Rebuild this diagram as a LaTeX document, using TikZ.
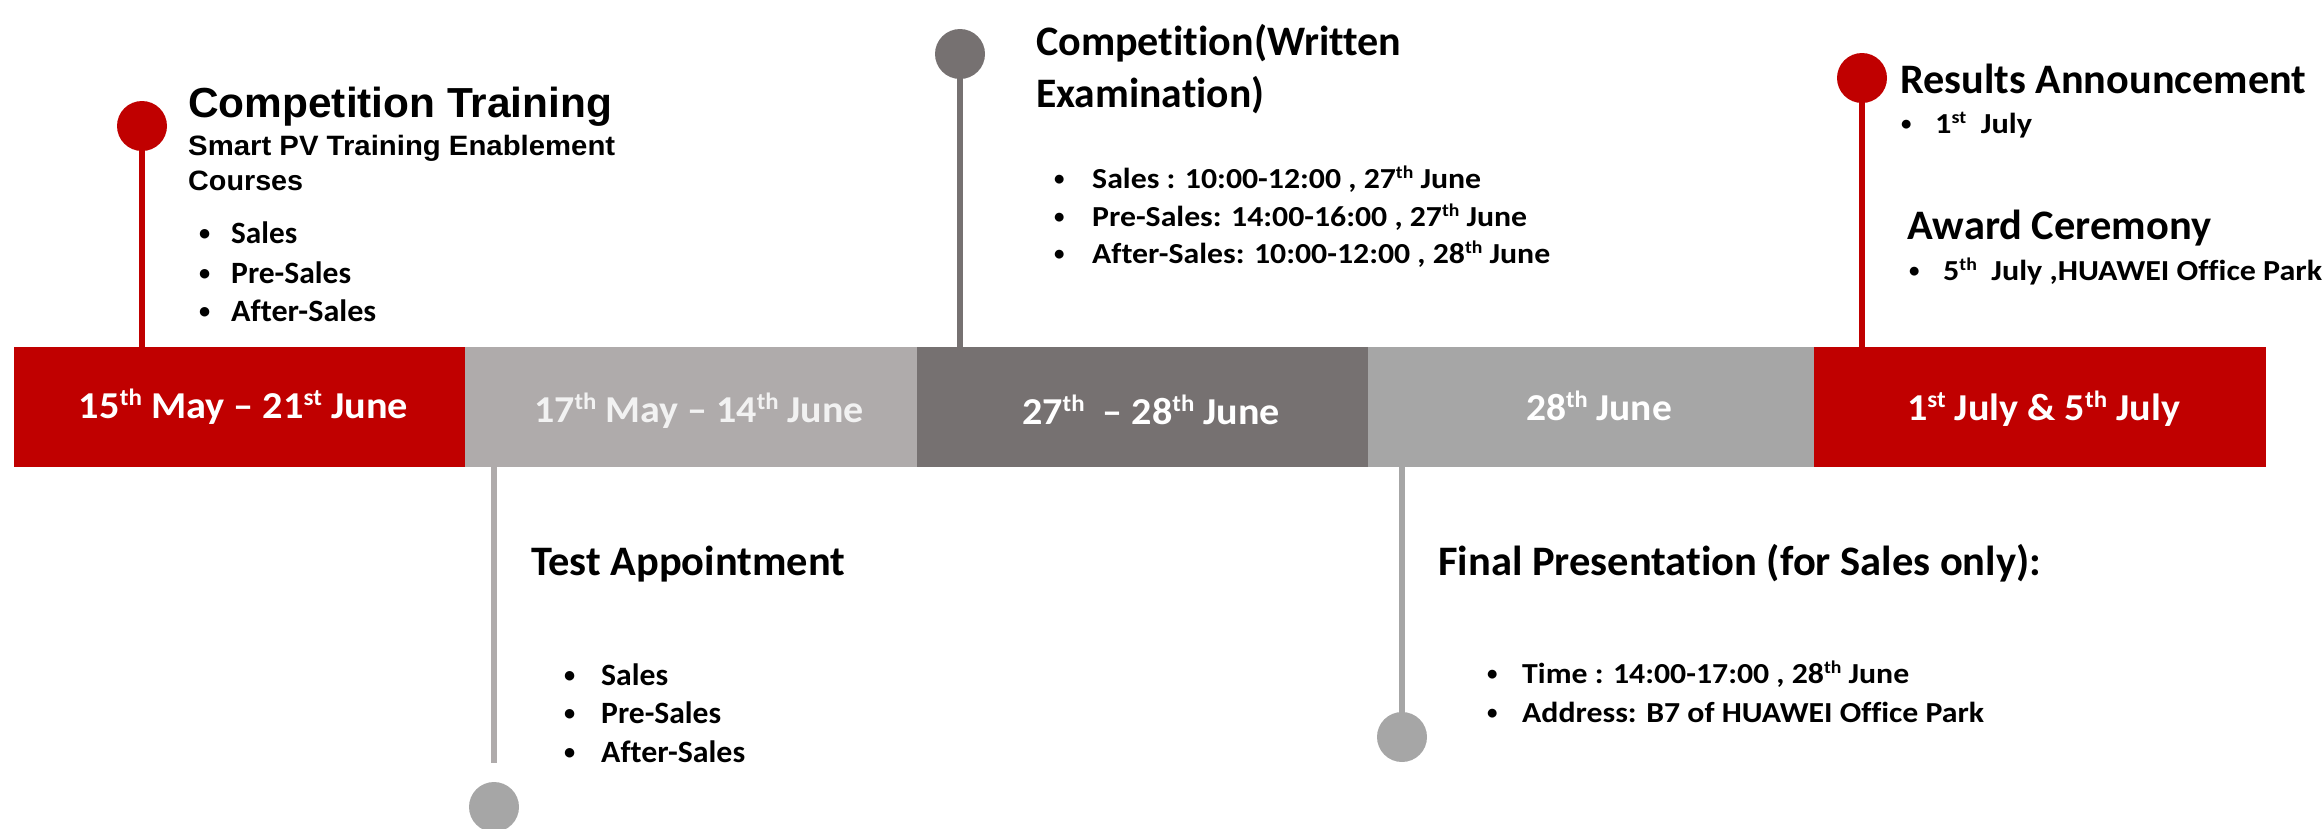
\documentclass[tikz,border=0pt]{standalone}
\usepackage{fontspec}
\usepackage{graphicx}
\setmainfont[Ligatures=NoCommon]{Carlito}
\newfontfamily\arialf{Liberation Sans}
\definecolor{hwred}{HTML}{C00000}
\definecolor{lgray}{HTML}{AFABAB}
\definecolor{dgray}{HTML}{767171}
\definecolor{mgray}{HTML}{A6A6A6}
\definecolor{offw}{HTML}{F2F2F2}
\newcommand{\sups}[1]{\raisebox{0.34em}{\scalebox{0.62}{#1}}}
\newcommand{\fitw}[2]{\resizebox{#1pt}{\height}{#2}}
\newcommand{\smbul}{\raisebox{0.07em}{\scalebox{0.72}{\textbullet}}}
\tikzset{
  seg/.style={rectangle, inner sep=0pt, minimum height=120pt, draw=none},
  barlbl/.style={anchor=base, inner sep=0pt, text=white, font=\fontsize{38}{42}\selectfont\bfseries},
  pin/.style={circle, inner sep=0pt, minimum size=50pt, draw=none},
  stem/.style={line width=6pt},
  ttl/.style={anchor=base west, inner sep=0pt, font=\fontsize{42}{48}\selectfont\bfseries},
  item/.style={anchor=base west, inner sep=0pt, font=\fontsize{29}{34}\selectfont\bfseries},
  itemb/.style={anchor=base west, inner sep=0pt, font=\fontsize{31}{36}\selectfont\bfseries},
}
\begin{document}
\begin{tikzpicture}[x=1pt,y=-1pt]
\useasboundingbox (0,0) rectangle (2324,828);
% bar segments
\node[seg, fill=hwred, minimum width=451pt] (s1) at (239.5,407) {};
\node[seg, fill=lgray, minimum width=452pt] (s2) at (691,407) {};
\node[seg, fill=dgray, minimum width=451pt] (s3) at (1142.5,407) {};
\node[seg, fill=mgray, minimum width=446pt] (s4) at (1591,407) {};
\node[seg, fill=hwred, minimum width=452pt] (s5) at (2040,407) {};
% bar labels
\node[barlbl] (l1) at (243.5,418) {\fitw{329}{15\sups{th} May – 21\sups{st} June}};
\node[barlbl, text=offw] (l2) at (699,422) {\fitw{330}{17\sups{th} May – 14\sups{th} June}};
\node[barlbl] (l3) at (1151,424) {\fitw{258}{27\sups{th}\ \ – 28\sups{th} June}};
\node[barlbl] (l4) at (1599,420) {\fitw{146}{28\sups{th} June}};
\node[barlbl] (l5) at (2043.5,420) {\fitw{273}{1\sups{st} July \& 5\sups{th} July}};
% pin positions
\coordinate (p1) at (142,126);
\coordinate (p2) at (494,807);
\coordinate (p3) at (960,54);
\coordinate (p4) at (1402,737);
\coordinate (p5) at (1862,78);
\coordinate (e2) at (494,763);
% stems
\draw[stem, hwred] (p1) -- (p1 |- s1.north);
\draw[stem, lgray] (e2 |- s2.south) -- (e2);
\draw[stem, dgray] (p3) -- (p3 |- s3.north);
\draw[stem, mgray] (p4 |- s4.south) -- (p4);
\draw[stem, hwred] (p5) -- (p5 |- s5.north);
% pins
\node[pin, fill=hwred] (c1) at (p1) {};
\node[pin, fill=mgray] (c2) at (p2) {};
\node[pin, fill=dgray] (c3) at (p3) {};
\node[pin, fill=mgray] (c4) at (p4) {};
\node[pin, fill=hwred] (c5) at (p5) {};
% competition training
\node[ttl, font=\arialf\fontsize{42}{48}\selectfont\bfseries] (t1) at (188,117) {\fitw{424}{Competition Training}};
\node[ttl, font=\arialf\fontsize{28}{34}\selectfont\bfseries] (t1b) at (188,155) {\fitw{427}{Smart PV Training Enablement}};
\node[ttl, font=\arialf\fontsize{28}{34}\selectfont\bfseries] (t1c) at (188,190) {\fitw{115}{Courses}};
\node[itemb] (b1d) at (199,243) {\smbul};
\node[itemb] (b1e) at (199,283) {\smbul};
\node[itemb] (b1f) at (199,321) {\smbul};
\node[itemb] (t1d) at (231,243) {\fitw{66}{Sales}};
\node[itemb] (t1e) at (231,283) {\fitw{120}{Pre-Sales}};
\node[itemb] (t1f) at (231,321) {\fitw{145}{After-Sales}};
% test appointment
\node[ttl] (t2) at (531,575) {\fitw{314}{Test Appointment}};
\node[itemb] (b2a) at (564,685) {\smbul};
\node[itemb] (b2b) at (564,723) {\smbul};
\node[itemb] (b2c) at (564,762) {\smbul};
\node[itemb] (t2a) at (601,685) {\fitw{67}{Sales}};
\node[itemb] (t2b) at (601,723) {\fitw{120}{Pre-Sales}};
\node[itemb] (t2c) at (601,762) {\fitw{144}{After-Sales}};
% competition written
\node[ttl] (t3) at (1036,55) {\fitw{365}{Competition(Written}};
\node[ttl] (t3b) at (1036,107) {\fitw{228}{Examination)}};
\node[item] (b3c) at (1054,188) {\smbul};
\node[item] (b3d) at (1054,226) {\smbul};
\node[item] (b3e) at (1054,263) {\smbul};
\node[item] (t3c) at (1092,188) {\fitw{389}{Sales : 10:00-12:00 , 27\sups{th} June}};
\node[item] (t3d) at (1092,226) {\fitw{435}{Pre-Sales: 14:00-16:00 , 27\sups{th} June}};
\node[item] (t3e) at (1092,263) {\fitw{458}{After-Sales: 10:00-12:00 , 28\sups{th} June}};
% final presentation
\node[ttl] (t4) at (1438,575) {\fitw{603}{Final Presentation (for Sales only):}};
\node[item] (b4a) at (1487,683) {\smbul};
\node[item] (b4b) at (1487,722) {\smbul};
\node[item] (t4a) at (1522,683) {\fitw{387}{Time : 14:00-17:00 , 28\sups{th} June}};
\node[item] (t4b) at (1522,722) {\fitw{462}{Address: B7 of HUAWEI Office Park}};
% results
\node[ttl] (t5) at (1900,93) {\fitw{406}{Results Announcement}};
\node[item] (b5a) at (1901,133) {\smbul};
\node[item] (t5a) at (1935,133) {\fitw{97}{1\sups{st}\ \ July}};
\node[ttl] (t5b) at (1907,239) {\fitw{304}{Award Ceremony}};
\node[item] (b5c) at (1909,280) {\smbul};
\node[item] (t5c) at (1943,280) {\fitw{379}{5\sups{th}\ \ July ,HUAWEI Office Park}};
\end{tikzpicture}
\end{document}
